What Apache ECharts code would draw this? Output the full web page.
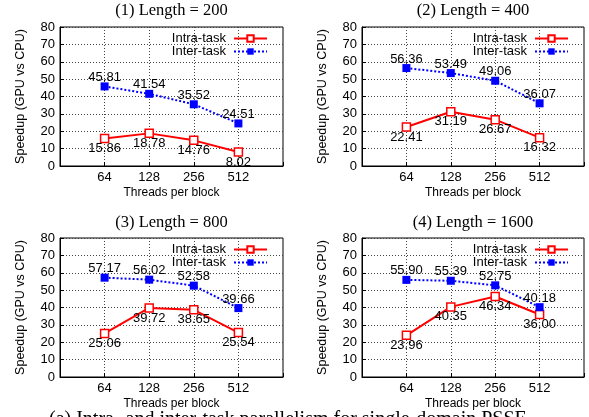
<!DOCTYPE html>
<html lang="en">
<head>
    <meta charset="UTF-8">
    <title>Speedup by threads per block</title>
    <style>
        html, body { margin: 0; padding: 0; background: #fff; }
        #box { width: 589px; height: 417px; }
    </style>
</head>
<body>
<div id="box"></div>
<script src="https://cdn.jsdelivr.net/npm/echarts@6/dist/echarts.min.js"></script>
<script>
    // data
    var threads = ['', '64', '128', '256', '512', ''];
    var titles = ['(1) Length = 200', '(2) Length = 400', '(3) Length = 800', '(4) Length = 1600'];
    var intraTask = [
        [15.86, 18.78, 14.76, 8.02],
        [22.41, 31.19, 26.67, 16.32],
        [25.06, 39.72, 38.65, 25.54],
        [23.96, 40.35, 46.34, 36.00]
    ];
    var interTask = [
        [45.81, 41.54, 35.52, 24.51],
        [56.36, 53.49, 49.06, 36.07],
        [57.17, 56.02, 52.58, 39.66],
        [55.90, 55.39, 52.75, 40.18]
    ];
    var yTicks = { min: 0, max: 80, interval: 10 };

    var mychart = echarts.init(document.getElementById('box'));

    // panel placement (pixels)
    var panels = [
        { left: 60,  top: 27,  width: 223, height: 139, titleTop: 2 },
        { left: 362, top: 27,  width: 222, height: 139, titleTop: 2 },
        { left: 60,  top: 238, width: 223, height: 139, titleTop: 214 },
        { left: 362, top: 238, width: 222, height: 139, titleTop: 214 }
    ];

    var sans = 'Liberation Sans';
    var serif = 'Liberation Serif';

    // pad the series so points sit on the inner categories
    function pad(arr) {
        return [null].concat(arr).concat([null]);
    }

    var grid = [], xAxis = [], yAxis = [], series = [], title = [], legend = [];

    panels.forEach(function (p, i) {
        grid.push({
            left: p.left, top: p.top, width: p.width, height: p.height,
            show: true, borderColor: '#000', borderWidth: 1, backgroundColor: 'transparent'
        });
        title.push({
            text: titles[i],
            left: p.left + p.width / 2,
            textAlign: 'center',
            top: p.titleTop,
            padding: 0,
            textStyle: { fontFamily: serif, fontSize: 16.5, fontWeight: 'normal', color: '#000' }
        });
        xAxis.push({
            type: 'category',
            gridIndex: i,
            data: threads,
            boundaryGap: false,
            name: 'Threads per block',
            nameLocation: 'middle',
            nameGap: 21,
            nameTextStyle: { fontFamily: sans, fontSize: 12, color: '#000' },
            axisLine: { lineStyle: { color: '#000', width: 1 } },
            axisTick: { inside: true, length: 4, lineStyle: { color: '#000' } },
            axisLabel: { fontFamily: sans, fontSize: 13, color: '#000', margin: 5, interval: 0 },
            splitLine: {
                show: true,
                interval: function (idx) { return idx > 0 && idx < threads.length - 1; },
                lineStyle: { color: '#444', type: [1, 2], width: 1 }
            }
        });
        yAxis.push({
            type: 'value',
            gridIndex: i,
            min: yTicks.min, max: yTicks.max, interval: yTicks.interval,
            name: 'Speedup (GPU vs CPU)',
            nameLocation: 'middle',
            nameGap: 33,
            nameTextStyle: { fontFamily: sans, fontSize: 12.5, color: '#000' },
            axisLine: { show: true, lineStyle: { color: '#000', width: 1 } },
            axisTick: { show: true, inside: true, length: 4, lineStyle: { color: '#000' } },
            axisLabel: { fontFamily: sans, fontSize: 13, color: '#000', margin: 5 },
            splitLine: { show: true, lineStyle: { color: '#444', type: [1, 2], width: 1 } }
        });
        series.push({
            name: 'Intra-task',
            type: 'line',
            xAxisIndex: i, yAxisIndex: i,
            data: pad(intraTask[i]),
            symbol: 'rect',
            symbolSize: 8,
            itemStyle: { color: '#fff', borderColor: '#f00', borderWidth: 1.5 },
            lineStyle: { color: '#f00', width: 2 },
            label: {
                show: true, position: 'inside', offset: [0, 10],
                fontFamily: sans, fontSize: 13, color: '#000',
                formatter: function (d) { return d.value.toFixed(2); }
            },
            animation: false
        });
        series.push({
            name: 'Inter-task',
            type: 'line',
            xAxisIndex: i, yAxisIndex: i,
            data: pad(interTask[i]),
            symbol: 'rect',
            symbolSize: 8,
            itemStyle: { color: '#00f' },
            lineStyle: { color: '#00f', width: 2, type: [2, 2] },
            label: {
                show: true, position: 'inside', offset: [0, -9],
                fontFamily: sans, fontSize: 13, color: '#000',
                formatter: function (d) { return d.value.toFixed(2); }
            },
            animation: false
        });
        legend.push({
            orient: 'vertical',
            align: 'right',
            right: 589 - (p.left + p.width - 15),
            top: p.top + 5,
            padding: 0,
            itemWidth: 33,
            itemHeight: 8,
            itemGap: 0,
            selectedMode: false,
            textStyle: { fontFamily: sans, fontSize: 13, lineHeight: 12, color: '#000', padding: [0, 3, 0, 0] },
            data: ['Intra-task', 'Inter-task']
        });
    });

    var option = {
        backgroundColor: '#fff',
        animation: false,
        title: title,
        legend: legend,
        grid: grid,
        xAxis: xAxis,
        yAxis: yAxis,
        series: series,
        graphic: [{
            type: 'text',
            left: 49,
            top: 410,
            style: {
                text: '(a) Intra- and inter-task parallelism for single-domain PSSE',
                font: '20px "Liberation Serif"',
                fill: '#000'
            }
        }]
    };
    mychart.setOption(option);
</script>
</body>
</html>
